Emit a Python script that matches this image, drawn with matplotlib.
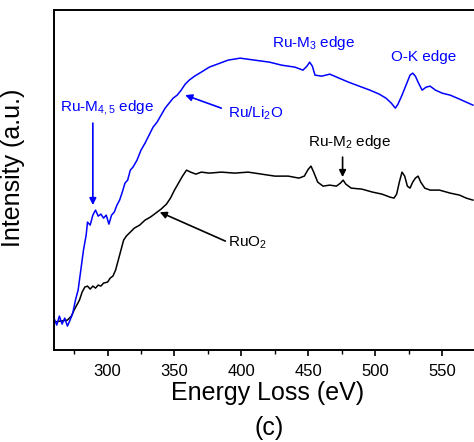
import matplotlib
matplotlib.use("Agg")
import matplotlib.pyplot as plt

plt.rcParams['font.family'] = 'Liberation Sans'
plt.rcParams['mathtext.fontset'] = 'custom'
plt.rcParams['mathtext.rm'] = 'Liberation Sans'
plt.rcParams['mathtext.it'] = 'Liberation Sans'

# Ru/Li2O spectrum (blue)
e_blue = [260, 262, 264, 266, 268, 270, 272, 274, 276, 278, 280, 282, 284, 285, 287, 289,
          291, 293, 295, 297, 299, 301, 303, 305, 307, 309, 311, 313, 315, 317, 319, 322,
          325, 328, 331, 334, 337, 340, 343, 346, 349, 352, 355, 358, 361, 365, 370, 376,
          382, 390, 399, 410, 421, 430, 440, 446, 449, 451, 453, 455, 460, 466, 473, 480,
          488, 496, 503, 508, 512, 515, 517, 520, 523, 526, 528, 530, 532, 535, 538, 541,
          545, 550, 556, 563, 568, 573]
i_blue = [32, 25, 34, 26, 32, 24, 30, 37, 50, 60, 80, 100, 115, 128, 125, 135,
          140, 134, 136, 132, 135, 126, 135, 138, 145, 150, 158, 167, 170, 180, 183, 190,
          200, 207, 215, 223, 228, 235, 242, 247, 252, 255, 260, 266, 270, 274, 278, 283,
          286, 290, 292, 290, 288, 285, 283, 280, 284, 288, 284, 275, 274, 276, 272, 268,
          264, 260, 256, 252, 247, 242, 246, 255, 265, 275, 277, 274, 268, 260, 263, 264,
          260, 257, 255, 251, 248, 245]

# RuO2 spectrum (black)
e_black = [260, 265, 270, 273, 275, 277, 279, 281, 283, 285, 287, 289, 291, 293, 295, 297,
           300, 302, 304, 306, 308, 310, 312, 314, 317, 320, 324, 328, 332, 336, 340, 344,
           347, 350, 353, 356, 359, 362, 366, 370, 376, 385, 395, 405, 415, 425, 435, 443,
           447, 450, 452, 454, 457, 461, 466, 471, 474, 476, 478, 482, 490, 498, 505, 511,
           514, 516, 518, 520, 522, 524, 526, 528, 530, 532, 534, 537, 541, 548, 556, 563,
           568, 573]
i_black = [28, 29, 30, 34, 40, 45, 50, 58, 63, 64, 61, 64, 62, 65, 64, 67,
           68, 72, 74, 80, 90, 100, 110, 114, 118, 122, 125, 130, 133, 137, 141, 146,
           152, 160, 167, 174, 180, 178, 176, 178, 177, 178, 177, 178, 176, 174, 174, 172,
           174, 181, 184, 178, 168, 164, 165, 164, 167, 170, 166, 162, 161, 158, 156, 153,
           152, 156, 168, 178, 174, 164, 162, 168, 172, 174, 168, 162, 160, 160, 157, 155,
           152, 150]

x_major = [300, 350, 400, 450, 500, 550]
x_minor = [275, 325, 375, 425, 475, 525, 575]

blue = '#0000ff'

fig = plt.figure(figsize=(4.74, 4.42), dpi=100)
ax = fig.add_axes([0.114, 0.208, 0.96, 0.769])

ax.plot(e_black, i_black, color='black', lw=1.1)
ax.plot(e_blue, i_blue, color=blue, lw=1.1)

ax.set_xlim(260, 600)
ax.set_ylim(0, 340)
ax.set_xticks(x_major)
ax.set_xticks(x_minor, minor=True)
ax.set_yticks([])
ax.tick_params(axis='x', which='major', direction='out', length=4, width=1.2,
               labelsize=12, pad=6)
ax.tick_params(axis='x', which='minor', direction='out', length=3, width=1.0)
for s in ax.spines.values():
    s.set_linewidth(1.4)
ax.spines['right'].set_visible(False)

ax.set_ylabel('Intensity (a.u.)', fontsize=18)
ax.yaxis.set_label_coords(-0.064, 0.535)
fig.text(0.565, 0.111, 'Energy Loss (eV)', fontsize=18, ha='center', va='center')
fig.text(0.567, 0.032, '(c)', fontsize=18, ha='center', va='center')

arrow_kw = dict(arrowstyle='-|>', lw=1.2, mutation_scale=10, shrinkA=0, shrinkB=0)

ax.text(264.5, 243, 'Ru-M$_{4,5}$ edge', color=blue, fontsize=11, ha='left', va='center')
ax.annotate('', xy=(289, 145), xytext=(289, 227),
            arrowprops=dict(color=blue, **arrow_kw))
ax.text(390, 237, 'Ru/Li$_2$O', color=blue, fontsize=11, ha='left', va='center')
ax.annotate('', xy=(358, 255), xytext=(385, 242),
            arrowprops=dict(color=blue, **arrow_kw))
ax.text(423, 307, 'Ru-M$_3$ edge', color=blue, fontsize=11, ha='left', va='center')
ax.text(512, 293, 'O-K edge', color=blue, fontsize=11, ha='left', va='center')
ax.text(449.5, 208, 'Ru-M$_2$ edge', color='black', fontsize=11, ha='left', va='center')
ax.annotate('', xy=(475.6, 173), xytext=(475.6, 193),
            arrowprops=dict(color='black', **arrow_kw))
ax.text(390, 107, 'RuO$_2$', color='black', fontsize=11, ha='left', va='center')
ax.annotate('', xy=(339, 138), xytext=(388, 109),
            arrowprops=dict(color='black', **arrow_kw))

fig.savefig('out.png', dpi=100)
